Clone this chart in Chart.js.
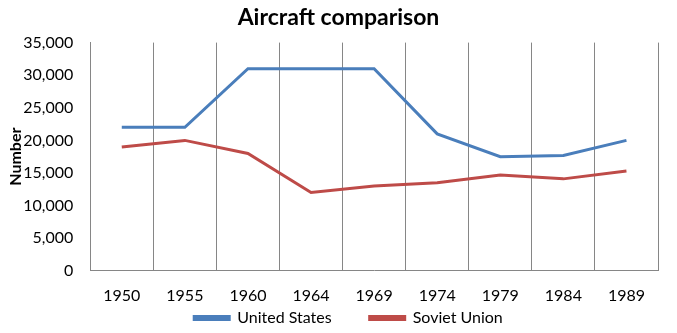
<!DOCTYPE html>
<html>
<head>
<meta charset="utf-8">
<script src="https://cdn.jsdelivr.net/npm/chart.js@4"></script>
<style>
  body { margin: 0; background: #fff; }
  #wrap { width: 677px; height: 333px; }
</style>
</head>
<body>
<div id="wrap"><canvas id="aircraft"></canvas></div>
<script>
var years = ["1950", "1955", "1960", "1964", "1969", "1974", "1979", "1984", "1989"];
var usValues = [22000, 22000, 31000, 31000, 31000, 21000, 17500, 17700, 20000];
var sovietValues = [19000, 20000, 18000, 12000, 13000, 13500, 14700, 14100, 15300];
var yTicks = [0, 5000, 10000, 15000, 20000, 25000, 30000, 35000];

var font = "Lato, 'Open Sans', sans-serif";

// legend items sit far apart in the original, but that padding also pushes them down,
// so grow the legend box upwards by the same amount (its draw is clipped to the box)
var legendNudge = {
  id: "legendNudge",
  afterLayout: function(chart) {
    var lg = chart.legend;
    lg.top -= lg.options.labels.padding + 10;
    lg.left += 10;
    lg.right += 10;
  }
};

new Chart("aircraft", {
  type: "line",
  data: {
    labels: years,
    datasets: [{
      label: "United States",
      data: usValues,
      borderColor: "#4a7ebb",
      backgroundColor: "#4a7ebb",
      borderWidth: 3,
      pointRadius: 0,
      tension: 0
    }, {
      label: "Soviet Union",
      data: sovietValues,
      borderColor: "#be4b48",
      backgroundColor: "#be4b48",
      borderWidth: 3,
      pointRadius: 0,
      tension: 0
    }]
  },
  plugins: [legendNudge],
  options: {
    responsive: true,
    maintainAspectRatio: false,
    animation: false,
    layout: { padding: 0 },
    plugins: {
      title: {
        display: true,
        text: "Aircraft comparison",
        color: "#000",
        font: { family: font, size: 23, weight: "bold" },
        padding: { top: 4, bottom: 11 }
      },
      legend: {
        position: "bottom",
        maxHeight: 13,
        labels: {
          color: "#000",
          font: { family: font, size: 16 },
          boxWidth: 35,
          boxHeight: 3,
          padding: 38
        }
      },
      tooltip: { enabled: false }
    },
    scales: {
      x: {
        offset: true,
        grid: { offset: true, color: "#868686", lineWidth: 1, drawTicks: false },
        border: { color: "#868686" },
        ticks: { color: "#000", font: { family: font, size: 16 }, padding: 15, maxRotation: 0 }
      },
      y: {
        min: 0,
        max: 35000,
        afterBuildTicks: function(axis) {
          axis.ticks = yTicks.map(function(v) { return { value: v }; });
        },
        // tick padding is counted twice in the width, drop the spare one
        afterFit: function(axis) { axis.width -= axis.options.ticks.padding + 2; },
        grid: { display: false, drawTicks: false },
        border: { color: "#868686" },
        title: {
          display: true,
          text: "Number",
          color: "#000",
          font: { family: font, size: 16, weight: "bold" },
          padding: { top: 6, bottom: 0 }
        },
        ticks: {
          color: "#000",
          font: { family: font, size: 16 },
          padding: 17,
          callback: function(v) { return v.toLocaleString("en-US"); }
        }
      },
      // empty right-hand axis, only keeps the plot clear of the right edge
      y2: {
        position: "right",
        grid: { display: false, drawTicks: false },
        border: { display: false },
        ticks: { display: false },
        afterFit: function(axis) { axis.width = 19; }
      }
    }
  }
});
</script>
</body>
</html>
